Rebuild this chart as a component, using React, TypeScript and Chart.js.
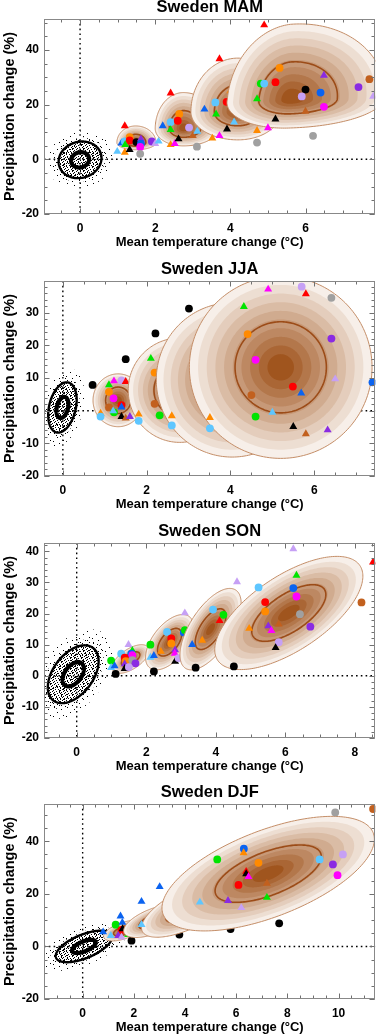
import React, { useEffect, useRef } from 'react';
import { Chart, registerables } from 'chart.js';
Chart.register(...registerables);

type Pt = [number, number, string, string];
type Ell = [number, number, number, number, number, number, number];

const FONT = '"Liberation Sans", Arial, Helvetica, sans-serif';
const X_TITLE = 'Mean temperature change (°C)';
const Y_TITLE = 'Precipitation change (%)';

const COLORS: Record<string, string> = {
  r: '#ff0000', o: '#ff8a00', g: '#00e400', c: '#5ec6ff', b: '#0b63f0',
  p: '#8a2be2', l: '#c6a0f5', m: '#ff00ff', k: '#000000', a: '#a0a0a0', n: '#c2601e',
};
const BANDS = ['#f7efe9', '#edded2', '#e4cdbc', '#dabca5', '#d0ab8f', '#c79978', '#bd8862', '#b3774b', '#aa6635', '#a0551e'];

// dot tiles used as texture for the internal-variability cloud (style only)
const TILE_SPARSE = [[2, 1], [9, 3], [5, 6], [11, 9], [1, 10], [7, 12]];
const TILE_MID = [[0, 0], [4, 1], [8, 2], [2, 4], [6, 5], [10, 6], [1, 8], [5, 9], [9, 10]];
const TILE_DENSE = [
  [0, 0], [3, 0], [7, 0], [5, 1], [9, 1], [1, 2], [4, 2], [8, 2], [6, 3], [10, 3],
  [2, 4], [5, 4], [9, 4], [0, 5], [7, 5], [3, 6], [6, 6], [10, 6], [1, 7], [8, 7],
  [4, 8], [7, 8], [0, 9], [2, 9], [9, 9], [5, 10], [8, 10],
];

// ---------- MAM ----------
const MAM_X = [-0.96, 7.86];
const MAM_Y = [-20, 51.3];
const MAM_NOISE = [0.0, -0.2, 0.57, 6.7, 0.1];
const MAM_ELL: Ell[] = [
  [1.48, 6.1, 0.5, 0.54, 2.6, 6.1, 0],
  [2.75, 11.2, 0.75, 0.92, 6.3, 13.2, 0],
  [4.2, 17.4, 1.25, 1.14, 10.3, 19.6, 0],
  [5.6, 21.8, 1.69, 2.5, 10.4, 27.7, 0.1],
];
const MAM_P1: Pt[] = [
  [1.19, 12.2, 'r', 't'], [0.99, 2.85, 'c', 't'], [1.1, 5.9, 'b', 't'], [1.19, 6.5, 'c', 'o'],
  [1.32, 8.1, 'o', 'o'], [1.32, 6.9, 'r', 'o'], [1.2, 5.3, 'g', 't'], [1.19, 2.5, 'o', 't'],
  [1.32, 3.5, 'k', 't'], [1.5, 6.3, 'k', 'o'], [1.62, 7.4, 'p', 't'], [1.62, 5.7, 'b', 'o'],
  [1.6, 4.5, 'm', 'o'], [1.6, 2.0, 'a', 'o'], [1.91, 6.5, 'p', 'o'], [2.0, 5.7, 'l', 't'], [2.09, 6.6, 'c', 't'],
];
const MAM_P2: Pt[] = [
  [2.41, 24.2, 'r', 't'], [2.2, 12.2, 'b', 't'], [2.64, 16.6, 'o', 'o'], [2.41, 13.6, 'c', 'o'],
  [2.6, 14.1, 'r', 'o'], [2.41, 10.8, 'g', 't'], [2.41, 5.3, 'o', 't'], [2.52, 5.7, 'm', 't'],
  [2.62, 7.4, 'k', 't'], [2.9, 11.6, 'l', 'o'], [3.0, 8.6, 'n', 't'], [3.12, 10.2, 'c', 't'], [3.11, 4.6, 'a', 'o'],
];
const MAM_P3: Pt[] = [
  [3.71, 36.7, 'r', 't'], [3.31, 18.3, 'b', 't'], [3.6, 20.8, 'c', 'o'], [4.0, 25, 'o', 't'],
  [3.9, 21, 'r', 'o'], [3.62, 16.5, 'g', 't'], [3.91, 11, 'k', 't'], [3.71, 8.6, 'm', 't'],
  [3.52, 7.7, 'o', 't'], [4.1, 13.6, 'c', 't'], [4.3, 24.2, 'b', 't'], [4.71, 6.1, 'a', 'o'], [4.71, 10.5, 'o', 't'],
];
const MAM_P4: Pt[] = [
  [4.9, 49.1, 'r', 't'], [5.31, 33.4, 'o', 'o'], [4.81, 27.7, 'g', 'o'], [4.9, 27.7, 'c', 'o'],
  [5.2, 28.2, 'r', 'o'], [4.71, 22.1, 'g', 't'], [5.2, 14.7, 'k', 't'], [5.0, 11.5, 'm', 't'],
  [6.0, 25.5, 'k', 'o'], [5.9, 23, 'l', 'o'], [6.4, 24.4, 'b', 'o'], [6.49, 19.2, 'm', 'o'],
  [6.0, 17.5, 'n', 't'], [6.49, 30.7, 'p', 't'], [7.41, 26.4, 'p', 'o'], [7.7, 29.3, 'n', 'o'],
  [7.8, 23, 'l', 't'], [6.2, 8.6, 'a', 'o'],
];

// ---------- JJA ----------
const JJA_X = [-0.45, 7.46];
const JJA_Y = [-20, 39.75];
const JJA_NOISE = [-0.01, 1.0, 0.34, 7.7, 0.3];
const JJA_ELL: Ell[] = [
  [1.32, 3.2, 0.6, 0.6, 8.1, 8.1, 0],
  [2.79, 6.3, 1.23, 1.23, 16, 16, 0],
  [4.04, 9.45, 1.81, 1.81, 23.65, 23.65, 0],
  [5.2, 13.3, 2.18, 2.18, 27.9, 27.9, 0],
];
const JJA_P1: Pt[] = [
  [0.71, 7.9, 'k', 'o'], [1.1, 7.9, 'g', 't'], [1.22, 9.1, 'm', 't'], [1.4, 9.3, 'l', 'o'],
  [1.5, 8.9, 'r', 't'], [1.1, 5.8, 'o', 'o'], [1.21, 3.8, 'm', 'o'], [1.1, 1.0, 'n', 'o'],
  [1.4, 1.7, 'r', 'o'], [1.4, 1.1, 'b', 't'], [1.22, -0.5, 'g', 'o'], [1.2, -0.1, 'c', 't'],
  [1.4, -1.8, 'k', 't'], [1.5, -2.3, 'n', 't'], [1.6, -1.8, 'p', 't'], [0.9, -0.8, 'o', 't'], [0.9, -1.8, 'c', 'o'],
];
const JJA_P2: Pt[] = [
  [1.5, 15.8, 'k', 'o'], [1.81, -1.1, 'o', 't'], [1.81, -3.1, 'c', 'o'], [2.1, 16, 'g', 't'],
  [2.19, 11.7, 'o', 'o'], [2.19, 2.1, 'n', 'o'],
];
const JJA_P3: Pt[] = [
  [2.21, 23.7, 'k', 'o'], [2.31, -1.4, 'g', 'o'], [2.6, -1.6, 'o', 't'], [2.6, -4.5, 'c', 'o'],
];
const JJA_P4: Pt[] = [
  [3.01, 31.3, 'k', 'o'], [3.51, -2.1, 'o', 't'], [3.51, -5.4, 'c', 'o'],
  [4.32, 31.9, 'g', 't'], [4.9, 37.2, 'm', 't'], [5.7, 38, 'l', 'o'], [5.8, 35.8, 'r', 't'],
  [6.41, 34.6, 'a', 'o'], [4.41, 23.5, 'o', 'o'], [6.41, 22.1, 'p', 'o'], [4.6, 15.6, 'm', 'o'],
  [6.5, 9.7, 'l', 't'], [7.39, 8.7, 'b', 'o'], [5.49, 7.4, 'r', 'o'], [5.69, 5.4, 'b', 't'],
  [4.5, 4.8, 'n', 'o'], [5.0, -0.5, 'c', 't'], [4.6, -1.8, 'g', 'o'], [5.5, -4.9, 'k', 't'],
  [6.32, -5.9, 'p', 't'], [5.8, -7.1, 'n', 't'],
];

// ---------- SON ----------
const SON_X = [-0.94, 8.59];
const SON_Y = [-20, 42.7];
const SON_NOISE = [-0.1, 0.5, 0.73, 9.3, 0.45];
const SON_ELL: Ell[] = [
  [1.55, 5.4, 0.53, 0.53, 4.6, 4.6, 0.6],
  [2.67, 10.8, 0.69, 0.69, 8.9, 8.9, 0.55],
  [3.85, 15.0, 0.88, 0.88, 13.1, 13.1, 0.63],
  [6.1, 20.2, 2.13, 2.13, 18.2, 18.2, 0.65],
];
const SON_P1: Pt[] = [
  [0.99, 4.9, 'g', 'o'], [0.99, 2.6, 'c', 't'], [1.09, 3.2, 'b', 't'], [1.12, 0.6, 'k', 'o'],
  [1.28, 7.1, 'c', 'o'], [1.49, 10.0, 'l', 't'], [1.6, 8.1, 'g', 't'], [1.57, 7.1, 'b', 'o'],
  [1.6, 6.6, 'm', 'o'], [1.38, 5.8, 'r', 'o'], [1.41, 4.7, 'o', 'o'], [1.6, 5.0, 'a', 'o'],
  [1.69, 4.0, 'p', 'o'], [1.38, 3.8, 'p', 't'], [1.38, 2.3, 'k', 't'], [1.5, 2.8, 'l', 'o'],
];
const SON_P2: Pt[] = [
  [2.12, 10.0, 'g', 'o'], [2.12, 5.9, 'c', 't'], [2.22, 6.5, 'b', 't'], [2.22, 1.4, 'k', 'o'],
  [2.42, 7.8, 'o', 't'], [2.6, 14.1, 'c', 'o'], [2.72, 12.0, 'r', 'o'], [2.72, 10.4, 'o', 'o'],
  [2.83, 8.3, 'p', 't'], [2.82, 7.2, 'm', 't'], [2.83, 4.6, 'k', 't'], [2.93, 5.7, 'l', 'o'],
  [3.08, 13.9, 'b', 'o'], [3.11, 14.7, 'g', 'o'], [3.11, 20.2, 'l', 't'], [3.13, 8.8, 'c', 't'],
];
const SON_P3: Pt[] = [
  [3.42, 2.6, 'k', 'o'], [3.32, 10.0, 'b', 't'], [3.61, 11.4, 'o', 't'], [3.92, 21.3, 'c', 'o'],
  [4.22, 19.6, 'g', 'o'], [4.11, 17.7, 'r', 't'], [4.12, 11.8, 'c', 't'], [4.41, 13.1, 'b', 't'],
];
const SON_P4: Pt[] = [
  [4.52, 3.0, 'k', 'o'], [4.61, 30.2, 'l', 't'], [6.23, 40.8, 'l', 't'], [8.52, 36.5, 'r', 't'],
  [6.32, 32.3, 'g', 't'], [5.23, 28.4, 'c', 'o'], [6.23, 28.2, 'b', 'o'], [6.32, 25.5, 'm', 'o'],
  [5.42, 23.7, 'r', 'o'], [5.42, 20.7, 'o', 'o'], [8.19, 23.6, 'n', 'o'], [6.42, 19.8, 'a', 'o'],
  [4.96, 15.2, 'o', 't'], [5.51, 16.0, 'p', 't'], [5.6, 14.5, 'm', 't'], [5.81, 16.6, 'n', 't'],
  [6.72, 15.8, 'p', 'o'], [5.81, 10.8, 'l', 'o'], [5.72, 9.0, 'k', 't'],
];

// ---------- DJF ----------
const DJF_X = [-1.51, 11.44];
const DJF_Y = [-20, 54.2];
const DJF_NOISE = [0.05, 0, 1.1, 6.0, 0.6];
const DJF_ELL: Ell[] = [
  [1.6, 6.0, 0.78, 0.78, 3.9, 3.9, 0.55],
  [2.8, 9.7, 1.2, 1.2, 6.3, 6.3, 0.6],
  [4.2, 14.7, 1.9, 1.9, 11.2, 11.2, 0.68],
  [7.25, 27.7, 4.15, 4.15, 21.8, 21.8, 0.6],
];
const DJF_P1: Pt[] = [
  [0.8, 5.5, 'b', 't'], [1.1, 4.1, 'c', 't'], [1.29, 8.3, 'g', 'o'], [1.55, 9.1, 'b', 't'],
  [1.48, 11.5, 'b', 't'], [1.52, 6.3, 'r', 'o'], [1.56, 6.7, 'k', 't'], [1.39, 4.1, 'p', 't'],
  [1.52, 3.5, 'l', 't'], [1.78, 4.5, 'g', 't'], [1.91, 2.2, 'k', 'o'],
];
const DJF_P2: Pt[] = [
  [2.3, 17.1, 'b', 't'], [3.78, 4.5, 'k', 'o'],
];
const DJF_P3: Pt[] = [
  [2.3, 8.3, 'c', 't'], [3.01, 22.7, 'b', 't'], [5.78, 6.6, 'k', 'o'],
];
const DJF_P4: Pt[] = [
  [11.35, 52.3, 'n', 'o'], [9.87, 51, 'a', 'o'], [6.3, 37.2, 'b', 'o'], [6.29, 35.6, 'o', 't'],
  [5.26, 33.1, 'g', 'o'], [6.87, 31.8, 'o', 'o'], [9.26, 33.1, 'c', 'o'], [10.17, 35, 'l', 'o'],
  [9.78, 31.2, 'p', 'o'], [9.96, 27.1, 'm', 'o'], [6.39, 28.5, 'r', 't'], [6.39, 27.6, 'k', 't'],
  [6.48, 26.5, 'm', 't'], [6.09, 23.4, 'r', 'o'], [7.2, 24, 'n', 't'], [7.2, 18.6, 'g', 't'],
  [5.68, 17.4, 'p', 't'], [6.2, 14.7, 'l', 't'], [4.58, 16.8, 'c', 't'], [7.68, 8.8, 'k', 'o'],
];

interface PanelCfg {
  title: string; top: number; xr: number[]; yr: number[]; yStep: number; yMinor: number;
  periods: Pt[][]; ells: Ell[]; noise: number[];
}

const PANELS: PanelCfg[] = [
  { title: 'Sweden MAM', top: 0, xr: MAM_X, yr: MAM_Y, yStep: 20, yMinor: 5, periods: [MAM_P1, MAM_P2, MAM_P3, MAM_P4], ells: MAM_ELL, noise: MAM_NOISE },
  { title: 'Sweden JJA', top: 262, xr: JJA_X, yr: JJA_Y, yStep: 10, yMinor: 2, periods: [JJA_P1, JJA_P2, JJA_P3, JJA_P4], ells: JJA_ELL, noise: JJA_NOISE },
  { title: 'Sweden SON', top: 524, xr: SON_X, yr: SON_Y, yStep: 10, yMinor: 2, periods: [SON_P1, SON_P2, SON_P3, SON_P4], ells: SON_ELL, noise: SON_NOISE },
  { title: 'Sweden DJF', top: 785, xr: DJF_X, yr: DJF_Y, yStep: 20, yMinor: 5, periods: [DJF_P1, DJF_P2, DJF_P3, DJF_P4], ells: DJF_ELL, noise: DJF_NOISE },
];

function ellPath(ctx: CanvasRenderingContext2D, xs: any, ys: any, e: Ell, k: number) {
  const [cx, cy, sxL, sxR, syD, syU, rho] = e;
  const q = Math.sqrt(1 - rho * rho);
  ctx.beginPath();
  const N = 200;
  for (let i = 0; i <= N; i++) {
    const t = (i / N) * Math.PI * 2;
    const u = Math.cos(t), v = Math.sin(t);
    const dx = u * (u < 0 ? sxL : sxR) * k;
    const w = rho * u + q * v;
    const dy = w * (w < 0 ? syD : syU) * k;
    const X = xs.getPixelForValue(cx + dx);
    const Y = ys.getPixelForValue(cy + dy);
    if (i === 0) ctx.moveTo(X, Y); else ctx.lineTo(X, Y);
  }
  ctx.closePath();
}

function dotPattern(ctx: CanvasRenderingContext2D, size: number, spots: number[][]) {
  const c = document.createElement('canvas');
  c.width = size; c.height = size;
  const g = c.getContext('2d')!;
  g.fillStyle = '#000';
  spots.forEach(([a, b]) => g.fillRect(a, b, 1, 1));
  return ctx.createPattern(c, 'repeat')!;
}

function tickVals(min: number, max: number, step: number) {
  const out: number[] = [];
  const start = Math.ceil(min / step - 1e-9);
  const end = Math.floor(max / step + 1e-9);
  for (let i = start; i <= end; i++) out.push(i * step);
  return out;
}

function makePlugin(cfg: PanelCfg) {
  return {
    id: 'panelDraw',
    beforeDatasetsDraw(chart: any) {
      const { ctx, chartArea: a, scales } = chart;
      const xs = scales.x, ys = scales.y;
      ctx.save();
      ctx.beginPath(); ctx.rect(a.left, a.top, a.right - a.left, a.bottom - a.top); ctx.clip();
      // zero lines
      ctx.setLineDash([1.6, 3.2]);
      ctx.lineWidth = 1.4;
      ctx.strokeStyle = '#000';
      const x0 = xs.getPixelForValue(0), y0 = ys.getPixelForValue(0);
      ctx.beginPath(); ctx.moveTo(x0, a.top); ctx.lineTo(x0, a.bottom); ctx.stroke();
      ctx.beginPath(); ctx.moveTo(a.left, y0); ctx.lineTo(a.right, y0); ctx.stroke();
      ctx.setLineDash([]);
      // internal-variability cloud
      const n = cfg.noise;
      const e: Ell = [n[0], n[1], n[2], n[2], n[3], n[3], n[4]];
      const sparse = dotPattern(ctx, 13, TILE_SPARSE);
      const mid = dotPattern(ctx, 11, TILE_MID);
      const dense = dotPattern(ctx, 11, TILE_DENSE);
      ctx.fillStyle = sparse; ellPath(ctx, xs, ys, e, 1.55); ctx.fill();
      ctx.fillStyle = mid; ellPath(ctx, xs, ys, e, 1.2); ctx.fill();
      ctx.fillStyle = dense; ellPath(ctx, xs, ys, e, 1.0); ctx.fill();
      ctx.fillStyle = mid; ellPath(ctx, xs, ys, e, 0.7); ctx.fill();
      ctx.fillStyle = sparse; ellPath(ctx, xs, ys, e, 0.45); ctx.fill();
      ctx.strokeStyle = '#000';
      ctx.lineWidth = 2.4; ellPath(ctx, xs, ys, e, 1.0); ctx.stroke();
      ctx.lineWidth = 4.2; ellPath(ctx, xs, ys, e, 0.42); ctx.stroke();
      ctx.restore();
    },
    beforeDatasetDraw(chart: any, args: any) {
      const e = cfg.ells[args.index];
      if (!e) return;
      const { ctx, chartArea: a, scales } = chart;
      const xs = scales.x, ys = scales.y;
      ctx.save();
      ctx.beginPath(); ctx.rect(a.left, a.top, a.right - a.left, a.bottom - a.top); ctx.clip();
      for (let k = 0; k < BANDS.length; k++) {
        ctx.fillStyle = BANDS[k];
        ellPath(ctx, xs, ys, e, 1 - k * 0.095);
        ctx.fill();
      }
      ctx.strokeStyle = '#c48e68';
      ctx.lineWidth = 1;
      ellPath(ctx, xs, ys, e, 1); ctx.stroke();
      ctx.strokeStyle = '#9c4c18';
      ctx.lineWidth = 1.6;
      ellPath(ctx, xs, ys, e, 0.5); ctx.stroke();
      ctx.restore();
    },
    afterDraw(chart: any) {
      const { ctx, chartArea: a, scales } = chart;
      const xs = scales.x, ys = scales.y;
      ctx.save();
      ctx.strokeStyle = '#707070';
      ctx.lineWidth = 1;
      const L = Math.round(a.left) + 0.5, R = Math.round(a.right) - 0.5;
      const T = Math.round(a.top) + 0.5, B = Math.round(a.bottom) - 0.5;
      ctx.beginPath();
      const xt = (step: number, len: number) => {
        tickVals(cfg.xr[0], cfg.xr[1], step).forEach((v) => {
          const p = Math.round(xs.getPixelForValue(v)) + 0.5;
          ctx.moveTo(p, B); ctx.lineTo(p, B - len);
          ctx.moveTo(p, T); ctx.lineTo(p, T + len);
        });
      };
      const yt = (step: number, len: number) => {
        tickVals(cfg.yr[0], cfg.yr[1], step).forEach((v) => {
          const p = Math.round(ys.getPixelForValue(v)) + 0.5;
          ctx.moveTo(L, p); ctx.lineTo(L + len, p);
          ctx.moveTo(R, p); ctx.lineTo(R - len, p);
        });
      };
      xt(2, 5); xt(0.5, 3); yt(cfg.yStep, 5); yt(cfg.yMinor, 3);
      ctx.stroke();
      ctx.strokeStyle = '#888888';
      ctx.strokeRect(L, T, R - L, B - T);
      ctx.fillStyle = '#000';
      ctx.font = `bold 16.5px ${FONT}`;
      ctx.textAlign = 'center';
      ctx.textBaseline = 'middle';
      ctx.fillText(cfg.title, (a.left + a.right) / 2, 7.5);
      ctx.restore();
    },
  };
}

function makeConfig(cfg: PanelCfg): any {
  const datasets = cfg.periods.map((pts, p) => ({
    data: pts.map((q) => ({ x: q[0], y: q[1] })),
    pointStyle: pts.map((q) => (q[3] === 't' ? 'triangle' : 'circle')),
    pointRadius: pts.map((q) => (q[3] === 't' ? 4.6 : 3.9)),
    pointBackgroundColor: pts.map((q) => COLORS[q[2]]),
    pointBorderColor: pts.map((q) => COLORS[q[2]]),
    pointBorderWidth: 0,
    pointHoverRadius: 0,
    showLine: false,
    clip: 0,
    order: 10 - p,
  }));
  const tickFont = { family: FONT, size: 12, weight: 'bold' as const };
  return {
    type: 'scatter',
    data: { datasets },
    options: {
      animation: false,
      responsive: false,
      maintainAspectRatio: false,
      events: [],
      layout: { padding: { top: 19, right: 1, left: 0, bottom: 0 } },
      plugins: { legend: { display: false }, tooltip: { enabled: false }, title: { display: false } },
      scales: {
        x: {
          type: 'linear', min: cfg.xr[0], max: cfg.xr[1],
          afterFit: (s: any) => { s.height = 36; },
          grid: { display: false, drawTicks: false },
          border: { display: false },
          ticks: { stepSize: 2, includeBounds: false, autoSkip: false, maxRotation: 0, color: '#000', padding: 7, font: tickFont },
          title: { display: true, text: X_TITLE, color: '#000', padding: { top: 0, bottom: 0 }, font: { family: FONT, size: 13, weight: 'bold' } },
        },
        y: {
          type: 'linear', min: cfg.yr[0], max: cfg.yr[1],
          afterFit: (s: any) => { s.width = 44; },
          grid: { display: false, drawTicks: false },
          border: { display: false },
          ticks: { stepSize: cfg.yStep, includeBounds: false, autoSkip: false, color: '#000', padding: 5, font: tickFont },
          title: { display: true, text: Y_TITLE, color: '#000', padding: { top: 1, bottom: 0 }, font: { family: FONT, size: 14.5, weight: 'bold' } },
        },
      },
    },
    plugins: [makePlugin(cfg)],
  };
}

function Panel({ cfg }: { cfg: PanelCfg }) {
  const ref = useRef<HTMLCanvasElement>(null);
  useEffect(() => {
    const chart = new Chart(ref.current!, makeConfig(cfg));
    return () => chart.destroy();
  }, [cfg]);
  return (
    <canvas
      ref={ref}
      width={380}
      height={250}
      style={{ position: 'absolute', left: 0, top: cfg.top, width: 380, height: 250 }}
    />
  );
}

export default function App() {
  return (
    <div style={{ position: 'absolute', left: 0, top: 0, width: 380, height: 1035, overflow: 'hidden', background: '#fff' }}>
      {PANELS.map((p) => (
        <Panel key={p.title} cfg={p} />
      ))}
    </div>
  );
}
